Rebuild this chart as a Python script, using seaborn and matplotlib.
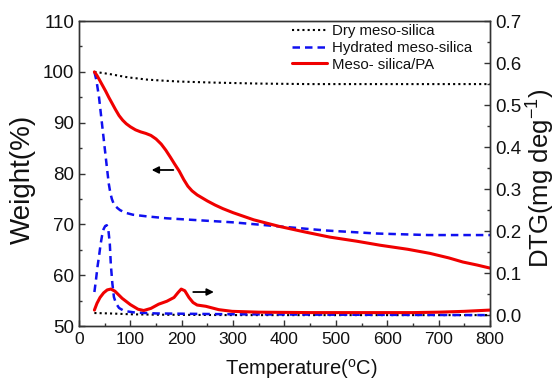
import numpy as np
import pandas as pd
import matplotlib
matplotlib.use("Agg")
import matplotlib.pyplot as plt
from matplotlib.ticker import MultipleLocator, FormatStrFormatter
import seaborn as sns

# ---- data ----
# TG curves (left axis, weight %)
dry_tg_T = [30, 45, 64, 80, 97, 115, 130, 160, 195, 260, 350, 450, 550, 650, 800]
dry_tg_W = [100, 99.8, 99.5, 99.2, 98.9, 98.7, 98.5, 98.3, 98.1, 97.9, 97.7, 97.6, 97.6, 97.6, 97.6]

hyd_tg_T = [30, 34, 39, 44, 49, 54, 58, 60, 62, 64, 67, 70, 75, 80, 90, 105, 130, 170, 235, 300, 390, 480, 580, 680, 800]
hyd_tg_W = [100, 98.3, 95, 90.5, 86, 81.5, 78, 76.8, 75.8, 75.0, 74.2, 73.7, 73.2, 72.8, 72.3, 71.9, 71.6, 71.2, 70.8, 70.4, 69.6, 68.8, 68.2, 67.9, 67.9]

pa_tg_T = [30, 35, 40, 46, 52, 58, 64, 71, 78, 85, 92, 100, 110, 120, 130, 140, 150, 160, 169, 178, 186, 195, 204, 212, 220, 230, 240, 250, 265, 280, 300, 340, 390, 440, 488, 540, 586, 640, 683, 720, 747, 775, 800]
pa_tg_W = [100, 99.3, 98.4, 97.3, 96.2, 95.0, 93.9, 92.6, 91.4, 90.5, 89.8, 89.2, 88.6, 88.2, 87.9, 87.5, 86.8, 85.8, 84.6, 83.2, 81.9, 80.5, 78.8, 77.5, 76.6, 75.8, 75.2, 74.6, 73.8, 73.1, 72.3, 70.9, 69.6, 68.5, 67.5, 66.7, 65.9, 65.1, 64.3, 63.4, 62.6, 62.0, 61.4]

# DTG curves (right axis, mg/deg)
dry_dtg_T = [30, 60, 100, 150, 300, 500, 800]
dry_dtg_V = [0.005, 0.004, 0.002, 0.001, 0.0, 0.0, 0.0]

hyd_dtg_T = [30, 33, 36, 39, 42, 45, 48, 51, 54, 57, 60, 62, 65, 68, 72, 78, 85, 93, 110, 150, 300, 500, 800]
hyd_dtg_V = [0.055, 0.083, 0.115, 0.14, 0.168, 0.19, 0.205, 0.212, 0.214, 0.205, 0.17, 0.12, 0.075, 0.043, 0.028, 0.017, 0.012, 0.009, 0.006, 0.004, 0.002, 0.001, 0.0]

pa_dtg_T = [30, 35, 41, 48, 55, 62, 70, 84, 100, 115, 126, 140, 155, 171, 185, 193, 199, 206, 214, 222, 230, 247, 272, 298, 350, 450, 550, 650, 700, 750, 800]
pa_dtg_V = [0.012, 0.028, 0.042, 0.053, 0.06, 0.062, 0.057, 0.04, 0.025, 0.014, 0.011, 0.016, 0.026, 0.033, 0.042, 0.054, 0.062, 0.058, 0.042, 0.03, 0.024, 0.021, 0.013, 0.009, 0.007, 0.006, 0.006, 0.006, 0.007, 0.009, 0.012]

labels = ["Dry meso-silica", "Hydrated meso-silica", "Meso- silica/PA"]

# ---- styling ----
sns.set_style("ticks")
plt.rcParams["font.family"] = ["Liberation Sans", "DejaVu Sans"]
plt.rcParams["mathtext.fontset"] = "custom"
plt.rcParams["mathtext.rm"] = "Liberation Sans"
plt.rcParams["mathtext.it"] = "Liberation Sans:italic"

TXT = "#111111"

fig = plt.figure(figsize=(5.57, 3.9), dpi=100)
ax = fig.add_axes([0.1418, 0.164, 0.7379, 0.782])
ax2 = ax.twinx()

styles = [
    dict(color="black", linestyle=(0, (1, 1.5)), linewidth=1.5),
    dict(color="#1010f0", linestyle=(0, (3, 2)), linewidth=1.8),
    dict(color="#f00000", linestyle="-", linewidth=2.2),
]

tg = [(dry_tg_T, dry_tg_W), (hyd_tg_T, hyd_tg_W), (pa_tg_T, pa_tg_W)]
dtg = [(dry_dtg_T, dry_dtg_V), (hyd_dtg_T, hyd_dtg_V), (pa_dtg_T, pa_dtg_V)]

for (t, w), st, lab in zip(tg, styles, labels):
    df = pd.DataFrame({"T": t, "W": w})
    sns.lineplot(data=df, x="T", y="W", ax=ax, label=lab, **st)
for (t, v), st in zip(dtg, styles):
    df = pd.DataFrame({"T": t, "V": v})
    sns.lineplot(data=df, x="T", y="V", ax=ax2, legend=False, **st)

ax.set_xlim(0, 800)
ax.set_ylim(50, 110)
ax2.set_ylim(-0.026, 0.7)

ax.xaxis.set_major_locator(MultipleLocator(100))
ax.xaxis.set_minor_locator(MultipleLocator(50))
ax.yaxis.set_major_locator(MultipleLocator(10))
ax.yaxis.set_minor_locator(MultipleLocator(5))
ax2.yaxis.set_major_locator(MultipleLocator(0.1))
ax2.yaxis.set_minor_locator(MultipleLocator(0.05))

for a in (ax, ax2):
    a.tick_params(which="both", direction="in", colors="#333333", labelcolor=TXT)
    a.tick_params(which="major", length=4, width=1)
    a.tick_params(which="minor", length=2.5, width=1)
    for s in a.spines.values():
        s.set_linewidth(1.0)
        s.set_color("#333333")
ax.tick_params(axis="x", labelsize=12.5, pad=4)
ax.tick_params(axis="y", labelsize=13.5)
ax2.tick_params(axis="y", labelsize=13.5)
ax.tick_params(top=False, right=False, which="both")
ax2.tick_params(left=False, which="both")
ax2.yaxis.set_major_formatter(FormatStrFormatter("%.1f"))

ax.set_xlabel(r"Temperature($^{\mathrm{o}}$C)", fontsize=14.5, color=TXT)
ax.xaxis.set_label_coords(0.54, -0.141)
ax.xaxis.label.set_verticalalignment("center")
ax.set_ylabel("Weight(%)", fontsize=20, color=TXT)
ax.yaxis.set_label_coords(-0.136, 0.480)
ax.yaxis.label.set_verticalalignment("center")
ax2.set_ylabel(r"DTG(mg deg$^{-1}$)", fontsize=18.5, color=TXT)
ax2.yaxis.set_label_coords(1.124, 0.485)
ax2.yaxis.label.set_verticalalignment("center")

# arrows
ax.annotate("", xy=(136, 80.7), xytext=(189, 80.7),
            arrowprops=dict(arrowstyle="-|>", color="black", lw=1.3, mutation_scale=10))
ax2.annotate("", xy=(268, 0.055), xytext=(217, 0.055),
             arrowprops=dict(arrowstyle="-|>", color="black", lw=1.3, mutation_scale=10))

leg = ax.legend(loc="upper right", bbox_to_anchor=(0.956, 0.989), frameon=False,
                fontsize=10.8, handlelength=2.33, handletextpad=0.33,
                labelspacing=0.17, borderaxespad=0, borderpad=0)
for t in leg.get_texts():
    t.set_color(TXT)

fig.savefig("out.png", dpi=100)
